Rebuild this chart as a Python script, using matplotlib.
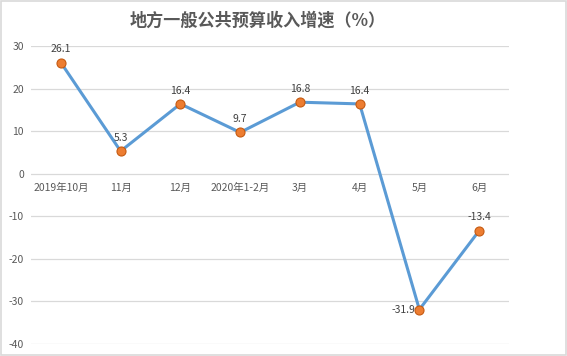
import matplotlib.pyplot as plt
from matplotlib.patches import Rectangle

plt.rcParams['font.family'] = ['Noto Sans CJK SC', 'DejaVu Sans']

# 数据
categories = ["2019年10月", "11月", "12月", "2020年1-2月", "3月", "4月", "5月", "6月"]
values = [26.1, 5.3, 16.4, 9.7, 16.8, 16.4, -31.9, -13.4]
yticks = [30, 20, 10, 0, -10, -20, -30, -40]
title = "地方一般公共预算收入增速（%）"

fig = plt.figure(figsize=(5.67, 3.56), dpi=100)
ax = fig.add_axes([31 / 567, 1 - 344 / 356, (509 - 31) / 567, (344 - 46) / 356])

x = list(range(len(categories)))
ax.plot(x, values, color="#5B9BD5", lw=2.2, marker="o", ms=6.5,
        mfc="#ED7D31", mec="#C55A11", mew=0.8, zorder=3)

ax.set_xlim(-0.5, len(categories) - 0.5)
ax.set_ylim(-40, 30)
ax.set_yticks(yticks)
ax.set_yticklabels([str(t) for t in yticks], fontsize=7.5, color="#595959")
ax.tick_params(axis="y", length=0, pad=5)
ax.set_xticks([])
for s in ax.spines.values():
    s.set_visible(False)
ax.grid(axis="y", color="#D9D9D9", lw=0.9)
ax.set_axisbelow(True)

# 横轴标签，放在0线下方
for i, c in enumerate(categories):
    ax.annotate(c, (i, 0), xytext=(0, -10), textcoords="offset points",
                ha="center", va="center", fontsize=7.5, color="#595959")

# 数据标签
for i, v in enumerate(values):
    if v < -30:
        ax.annotate(f"{v}", (i, v), xytext=(-3, 0), textcoords="offset points",
                    ha="right", va="center", fontsize=7.5, color="#404040")
    else:
        ax.annotate(f"{v}", (i, v), xytext=(0, 6), textcoords="offset points",
                    ha="center", va="bottom", fontsize=7.5, color="#404040")

fig.text(258 / 567, 1 - 21 / 356, title, ha="center", va="center",
         fontsize=12.3, fontweight="bold", color="#595959")

fig.patches.append(Rectangle((0.001, 0.002), 0.997, 0.995, transform=fig.transFigure,
                             fill=False, ec="#D9D9D9", lw=1.2))

fig.savefig("out.png", dpi=100)
